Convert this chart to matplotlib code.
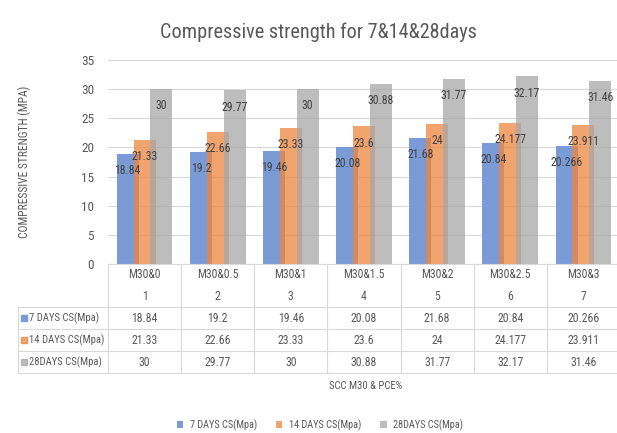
import numpy as np
import matplotlib.pyplot as plt
from matplotlib import font_manager
from matplotlib.patches import Patch

# the original uses a narrow font; take a narrow one if there is one
have = {f.name for f in font_manager.fontManager.ttflist}
narrow = [n for n in ['Liberation Sans Narrow', 'DejaVu Sans Condensed', 'Roboto Condensed']
          if n in have]
if narrow:
    plt.rcParams['font.family'] = [narrow[0], 'DejaVu Sans']
    k = 1.12
else:
    plt.rcParams['font.family'] = ['Roboto', 'DejaVu Sans']
    k = 1.0

# data
mixes = ["M30&0", "M30&0.5", "M30&1", "M30&1.5", "M30&2", "M30&2.5", "M30&3"]
mix_no = [1, 2, 3, 4, 5, 6, 7]
cs7 = [18.84, 19.2, 19.46, 20.08, 21.68, 20.84, 20.266]
cs14 = [21.33, 22.66, 23.33, 23.6, 24, 24.177, 23.911]
cs28 = [30, 29.77, 30, 30.88, 31.77, 32.17, 31.46]
names = ["7 DAYS CS(Mpa)", "14 DAYS CS(Mpa)", "28DAYS CS(Mpa)"]

cols = ["#7A9BD6", "#EE863E", "#A7A7A7"]
alphas = [1.0, 0.75, 0.75]
txt = "#595959"
grid = "#D9D9D9"

W, H = 617, 433
fig = plt.figure(figsize=(W / 100, H / 100), dpi=100)

# main chart area (pixel box)
ax = fig.add_axes([108 / W, 1 - 264 / H, 512 / W, 204 / H])
x = np.arange(len(mixes))
offs = [-0.23, 0, 0.23]
for vals, o, c, a in zip([cs7, cs14, cs28], offs, cols, alphas):
    bars = ax.bar(x + o, vals, width=0.30, color=c, alpha=a, zorder=2)
    for b, v in zip(bars, vals):
        ax.annotate('{:g}'.format(v), (b.get_x() + b.get_width() / 2, v),
                    xytext=(0, -12), textcoords='offset points',
                    ha='center', va='center', fontsize=7.6 * k, color="#404040", zorder=3)

ax.set_xlim(-0.5, 6.5)
ax.set_ylim(0, 35)
ax.set_yticks(range(0, 36, 5))
ax.tick_params(axis='y', length=0, labelsize=8.5 * k, labelcolor=txt, pad=10)
ax.set_xticks([])
ax.grid(axis='y', color=grid, lw=0.8, zorder=0)
for s in ['top', 'right', 'left']:
    ax.spines[s].set_visible(False)
ax.spines['bottom'].set_color(grid)
ax.set_ylabel("COMPRESSIVE STRENGTH (MPA)", fontsize=7.4 * k, color=txt, labelpad=36)

fig.text(318 / W, 1 - 32 / H, "Compressive strength for 7&14&28days",
         ha='center', va='center', fontsize=13 * k, color=txt)

# data table under the chart, y in pixels below the axis line
tax = fig.add_axes([108 / W, 1 - 373 / H, 512 / W, 109 / H])
tax.set_xlim(-0.5, 6.5)
tax.set_ylim(109, 0)
tax.axis('off')
left = -0.5 - 90 / 73.14
for b in np.arange(-0.5, 7, 1):
    tax.plot([b, b], [0, 109], color=grid, lw=0.8, clip_on=False)
for yy in [43, 65, 87, 109]:
    tax.plot([left, 6.5], [yy, yy], color=grid, lw=0.8, clip_on=False)
tax.plot([left, left], [43, 109], color=grid, lw=0.8, clip_on=False)

for i in range(len(mixes)):
    tax.text(i, 11, mixes[i], ha='center', va='center', fontsize=7.6 * k, color=txt)
    tax.text(i, 33, str(mix_no[i]), ha='center', va='center', fontsize=7.6 * k, color=txt)

rows_y = [54, 76, 98]
for vals, nm, c, a, ry in zip([cs7, cs14, cs28], names, cols, alphas, rows_y):
    for i, v in enumerate(vals):
        tax.text(i, ry, '{:g}'.format(v), ha='center', va='center', fontsize=7.6 * k, color=txt)
    tax.plot([left + 0.085], [ry], marker='s', ms=4.5, color=c, alpha=a, clip_on=False)
    tax.text(left + 0.15, ry, nm, ha='left', va='center', fontsize=6.8 * k, color=txt)

fig.text(366 / W, 1 - 386 / H, "SCC M30 & PCE%", ha='center', va='center',
         fontsize=6.8 * k, color=txt)

handles = [Patch(facecolor=c, alpha=a) for c, a in zip(cols, alphas)]
fig.legend(handles, names, loc='center', bbox_to_anchor=(320 / W, 1 - 425 / H),
           ncol=3, frameon=False, fontsize=6.6 * k, handlelength=0.6, handleheight=0.6,
           handletextpad=0.6, columnspacing=1.9, labelcolor=txt)

fig.savefig("out.png", dpi=100)
